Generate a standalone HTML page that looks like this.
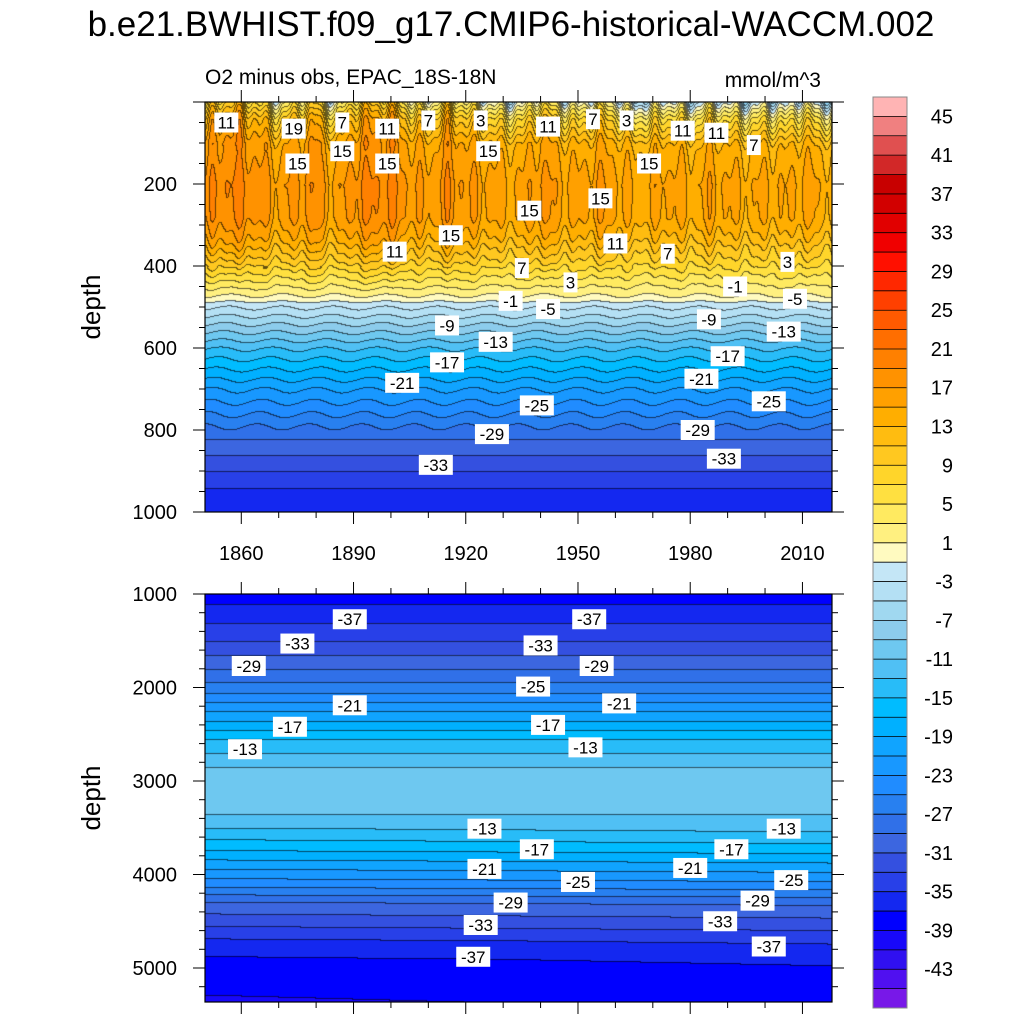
<!DOCTYPE html>
<html><head><meta charset="utf-8">
<style>
body{margin:0;background:#fff;}
#wrap{position:relative;width:1024px;height:1024px;overflow:hidden;font-family:"Liberation Sans",Arial,sans-serif;}
canvas{position:absolute;}
svg{position:absolute;left:0;top:0;}
</style></head>
<body>
<div id="wrap">
<canvas id="c1" width="627" height="410" style="left:205px;top:102px"></canvas>
<canvas id="c2" width="627" height="408" style="left:205px;top:594px"></canvas>
<svg id="s" width="1024" height="1024">
<text x="511" y="36" font-size="35" text-anchor="middle">b.e21.BWHIST.f09_g17.CMIP6-historical-WACCM.002</text>
<text x="205" y="84" font-size="21">O2 minus obs, EPAC_18S-18N</text>
<text x="821" y="87" font-size="21" text-anchor="end">mmol/m^3</text>
<text x="100" y="307" font-size="26" text-anchor="middle" transform="rotate(-90 100 307)">depth</text>
<text x="100" y="798" font-size="26" text-anchor="middle" transform="rotate(-90 100 798)">depth</text>
</svg>
</div>
<script>
// colour levels (boundaries, odd values)
const levels=[45,43,41,39,37,35,33,31,29,27,25,23,21,19,17,15,13,11,9,7,5,3,1,-1,-3,-5,-7,-9,-11,-13,-15,-17,-19,-21,-23,-25,-27,-29,-31,-33,-35,-37,-39,-41,-43,-45];
const colors=["#ffb4b4","#f08080","#e05050","#d22828","#c80000","#d20000","#e10000","#f00000","#ff1000","#ff2800","#ff4000","#ff5a00","#ff6e00","#ff8000","#ff9200","#ffa000","#ffae00","#ffbc10","#ffc820","#ffd52a","#ffe040","#ffea60","#fff080","#fffac0","#c4e6f6","#b4e0f4","#a0d8f0","#8cccec","#6ec8f0","#50c0f4","#28bcf8","#00bcff","#00b0ff","#10a4ff","#1898ff","#208cff","#2880f0","#3070e8","#3c66e0","#3450e0","#2840e8","#1428f0","#0000ff","#1808fa","#3010f0","#5010f0","#7818e8"];
const colorLabels=[45,41,37,33,29,25,21,17,13,9,5,1,-3,-7,-11,-15,-19,-23,-27,-31,-35,-39,-43];
// upper panel mean profile
const upDepth=[0,15,40,100,200,280,330,380,420,460,480,490,520,560,600,650,700,760,820,880,940,1000];
const upVal=[3,6,10,15,17,16.5,14,10,6,2,0,-2,-5,-9,-13,-17,-21,-25,-29,-32,-35,-36.5];
// lower panel mean profile
const loDepth=[1000,1200,1500,1800,2000,2200,2400,2600,2800,2860,3300,3380,3500,3700,3900,4100,4300,4500,4700,4900,5100,5370];
const loVal=[-38,-36,-33,-29,-26,-22,-18,-14,-12,-10.6,-10.5,-11.4,-12.8,-16,-20,-24,-29,-32,-35,-37,-38,-39];
// upper-ocean anomaly per 5 years, 1850..2015
const anomYears=[1850,1855,1860,1865,1870,1875,1880,1885,1890,1895,1900,1905,1910,1915,1920,1925,1930,1935,1940,1945,1950,1955,1960,1965,1970,1975,1980,1985,1990,1995,2000,2005,2010,2015];
const anomVals=[1,3,3,1,-1,1,2,-2,2,3,3,0,-1,2,0,-1,-2,-2,1,-1,-2,0,-1,-3,-2,-1,-3,-1,-2,-3,-2,-3,-1,-3];
const xTickYears=[1860,1890,1920,1950,1980,2010];
const upYTicks=[200,400,600,800,1000];
const loYTicks=[1000,2000,3000,4000,5000];
const upLabels=[[1856,50,"11"],[1874,65,"19"],[1887,50,"7"],[1875,150,"15"],[1887,120,"15"],[1899,65,"11"],[1910,45,"7"],[1924,45,"3"],[1899,150,"15"],[1926,120,"15"],[1942,60,"11"],[1954,42,"7"],[1963,45,"3"],[1978,70,"11"],[1987,75,"11"],[1997,105,"7"],[1969,150,"15"],[1956,235,"15"],[1937,265,"15"],[1916,325,"15"],[1901,365,"11"],[1960,345,"11"],[1974,370,"7"],[1935,405,"7"],[1948,440,"3"],[2006,390,"3"],[1932,485,"-1"],[1992,450,"-1"],[1942,505,"-5"],[2008,480,"-5"],[1915,545,"-9"],[1985,530,"-9"],[1928,585,"-13"],[2005,560,"-13"],[1915,635,"-17"],[1990,620,"-17"],[1903,685,"-21"],[1983,675,"-21"],[1939,740,"-25"],[2001,730,"-25"],[1927,810,"-29"],[1982,800,"-29"],[1912,885,"-33"],[1989,870,"-33"]];
const loLabels=[[1889,1270,"-37"],[1953,1270,"-37"],[1875,1530,"-33"],[1940,1550,"-33"],[1862,1770,"-29"],[1955,1770,"-29"],[1938,1990,"-25"],[1889,2190,"-21"],[1961,2170,"-21"],[1873,2420,"-17"],[1942,2400,"-17"],[1861,2660,"-13"],[1952,2640,"-13"],[1925,3510,"-13"],[2005,3510,"-13"],[1939,3730,"-17"],[1991,3730,"-17"],[1925,3940,"-21"],[1980,3930,"-21"],[1950,4080,"-25"],[2007,4060,"-25"],[1932,4300,"-29"],[1998,4280,"-29"],[1924,4540,"-33"],[1988,4500,"-33"],[1922,4880,"-37"],[2001,4770,"-37"]];

const X0=205,X1=832,Y0UP=102,Y1UP=512,Y0LO=594,Y1LO=1002;
const yr0=1850.3, yr1=2017.9;
function xOf(y){return X0+(y-yr0)/(yr1-yr0)*(X1-X0);}
function yrOf(px){return yr0+px/(X1-X0)*(yr1-yr0);}
function yUp(d){return Y0UP+d/1000*(Y1UP-Y0UP);}
const loD0=1000, loPx=0.0935;
function yLo(d){return Y0LO+(d-loD0)*loPx;}
function interp(xs,ys,x){if(x<=xs[0])return ys[0];for(let i=1;i<xs.length;i++){if(x<=xs[i]){const t=(x-xs[i-1])/(xs[i]-xs[i-1]);return ys[i-1]+t*(ys[i]-ys[i-1]);}}return ys[ys.length-1];}
function bin(v){if(v>45)return 0;let i=Math.floor((45-v)/2)+1;return Math.min(i,46);}
function hex(c){return [parseInt(c.substr(1,2),16),parseInt(c.substr(3,2),16),parseInt(c.substr(5,2),16)];}
const rgb=colors.map(hex);

function drawPanel(id,w,h,valFn){
  const cv=document.getElementById(id),ctx=cv.getContext('2d');
  const img=ctx.createImageData(w,h);const B=new Int16Array(w*h);
  for(let j=0;j<h;j++)for(let i=0;i<w;i++)B[j*w+i]=bin(valFn(i,j));
  for(let j=0;j<h;j++)for(let i=0;i<w;i++){
    const k=j*w+i,b=B[k];let c=rgb[b];
    const edge=(j>0&&B[k-w]!==b)||(i>0&&B[k-1]!==b);
    const o=k*4;
    const f=edge?0.4:1;
    img.data[o]=c[0]*f;img.data[o+1]=c[1]*f;img.data[o+2]=c[2]*f;
    img.data[o+3]=255;
  }
  ctx.putImageData(img,0,0);
}
function upVal2(i,j){
  const d=j/(Y1UP-Y0UP)*1000, yr=yrOf(i);
  let v=interp(upDepth,upVal,d);
  let w=d<350?1:(d<470?(470-d)/120:0);
  const a=interp(anomYears,anomVals,yr)+1.2*Math.sin(yr*0.9)+0.8*Math.sin(yr*1.7+1);
  let wsurf=d<120?(1+(120-d)/60):1;
  v+=a*w*wsurf*0.8;
  v+=0.5*Math.sin(yr*0.45+d*0.01)*(d>400&&d<800?1:0);
  return v;
}
function loVal2(i,j){
  const d=loD0+j/loPx, yr=yrOf(i);
  let v=interp(loDepth,loVal,d);
  v+=(yr-1935)*0.004*(d>3500?1:0);
  return v;
}
drawPanel('c1',627,410,upVal2);
drawPanel('c2',627,408,loVal2);

const NS='http://www.w3.org/2000/svg';const S=document.getElementById('s');
function el(tag,attrs,parent){const e=document.createElementNS(NS,tag);for(const k in attrs)e.setAttribute(k,attrs[k]);(parent||S).appendChild(e);return e;}
function line(x1,y1,x2,y2,sw){return el('line',{x1,y1,x2,y2,stroke:'#000','stroke-width':sw||1});}

[[Y0UP,Y1UP],[Y0LO,Y1LO]].forEach((p,pi)=>{
  const r=el('rect',{x:X0,y:p[0],width:X1-X0,height:p[1]-p[0],fill:'none',stroke:'#000','stroke-width':1.2});
  
  
  for(let yr=1850;yr<=2017;yr+=10){const x=xOf(yr);if(x<X0||x>X1)continue;
    const major=xTickYears.indexOf(yr)>=0;const L=major?12:6;
    line(x,p[0],x,p[0]-L);line(x,p[1],x,p[1]+L);}
});
xTickYears.forEach(yr=>{const t=el('text',{x:xOf(yr),y:560,'font-size':20,'text-anchor':'middle'});t.textContent=yr;
  
  });
for(let d=0;d<=1000;d+=50){const y=yUp(d);const major=d%200===0;const L=major?12:6;line(X0,y,X0-L,y);line(X1,y,X1+L,y);}
upYTicks.forEach(d=>{const t=el('text',{x:177,y:yUp(d)+7,'font-size':20,'text-anchor':'end'});t.textContent=d;
  
  });
for(let d=1000;d<=5370;d+=200){const y=yLo(d);const major=d%1000===0;const L=major?12:6;line(X0,y,X0-L,y);line(X1,y,X1+L,y);}
loYTicks.forEach(d=>{const t=el('text',{x:177,y:yLo(d)+7,'font-size':20,'text-anchor':'end'});t.textContent=d;
  
  });

function lbl(x,y,txt){
  const w=txt.length*10+4;
  const g=el('g',{});
  
  
  el('rect',{x:x-w/2,y:y-10,width:w,height:20,fill:'#fff'},g);
  const t=el('text',{x:x,y:y+6,'font-size':17,'text-anchor':'middle'},g);t.textContent=txt;
}
upLabels.forEach(l=>lbl(xOf(l[0]),yUp(l[1]),l[2]));
loLabels.forEach(l=>lbl(xOf(l[0]),yLo(l[1]),l[2]));

const CB0=97,CB1=1008,CBX=873,CBW=34;const bh=(CB1-CB0)/colors.length;
colors.forEach((c,i)=>{const r=el('rect',{x:CBX,y:CB0+i*bh,width:CBW,height:bh+0.5,fill:c});
  
  });
levels.forEach((lv,i)=>{line(CBX,CB0+(i+1)*bh,CBX+CBW,CB0+(i+1)*bh,0.8);});
el('rect',{x:CBX,y:CB0,width:CBW,height:CB1-CB0,fill:'none',stroke:'#888','stroke-width':1});
colorLabels.forEach(lv=>{const i=levels.indexOf(lv);const y=CB0+(i+1)*bh;
  const t=el('text',{x:953,y:y+7,'font-size':20,'text-anchor':'end'});t.textContent=lv;
  
  });
</script>
</body></html>
